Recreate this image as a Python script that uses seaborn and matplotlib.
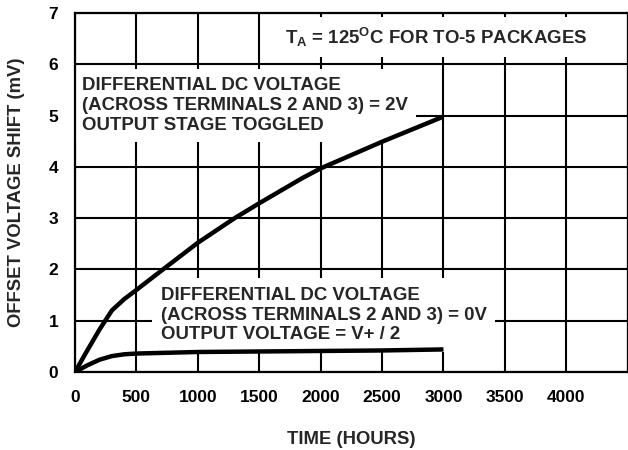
import matplotlib
matplotlib.use("Agg")
import matplotlib.pyplot as plt
import seaborn as sns
import pandas as pd

# ---- data ----
hours_2v = [0, 100, 200, 300, 400, 500, 700, 1000, 1300, 1500, 1850, 2000, 2500, 3000]
shift_2v = [0, 0.42, 0.83, 1.20, 1.42, 1.60, 1.97, 2.52, 3.00, 3.29, 3.78, 3.97, 4.49, 4.98]
hours_0v = [0, 100, 200, 300, 400, 500, 1000, 1500, 2000, 2500, 3000]
shift_0v = [0, 0.13, 0.24, 0.31, 0.345, 0.36, 0.39, 0.40, 0.41, 0.42, 0.44]
x_ticks = [0, 500, 1000, 1500, 2000, 2500, 3000, 3500, 4000]
x_grid = [0, 500, 1000, 1500, 2000, 2500, 3000, 3500, 4000, 4500]
y_ticks = [0, 1, 2, 3, 4, 5, 6, 7]

label_2v = "DIFFERENTIAL DC VOLTAGE\n(ACROSS TERMINALS 2 AND 3) = 2V\nOUTPUT STAGE TOGGLED"
label_0v = "DIFFERENTIAL DC VOLTAGE\n(ACROSS TERMINALS 2 AND 3) = 0V\nOUTPUT VOLTAGE = V+ / 2"
label_ta = r"$\mathbf{T_A}$ = 125$^{\mathbf{O}}$C FOR TO-5 PACKAGES"
x_label = "TIME (HOURS)"
y_label = "OFFSET VOLTAGE SHIFT (mV)"

df = pd.concat([
    pd.DataFrame({"hours": hours_2v, "shift": shift_2v, "series": "2V"}),
    pd.DataFrame({"hours": hours_0v, "shift": shift_0v, "series": "0V"}),
])

sns.set_style("white")
plt.rcParams["font.family"] = ["Liberation Sans", "DejaVu Sans"]
plt.rcParams["font.weight"] = "bold"
plt.rcParams["mathtext.fontset"] = "custom"
plt.rcParams["mathtext.rm"] = "Liberation Sans:bold"
plt.rcParams["mathtext.bf"] = "Liberation Sans:bold"
plt.rcParams["mathtext.it"] = "Liberation Sans:bold"

FS_TICK = 12.5
FS_ANN = 13.4
FS_LAB = 13.3
fig = plt.figure(figsize=(6.28, 4.5), dpi=100)
ax = fig.add_axes([75 / 628, 1 - 372 / 450, 553 / 628 - 0.0005, (372 - 13) / 450])

sns.lineplot(data=df, x="hours", y="shift", hue="series", sort=False,
             palette={"2V": "black", "0V": "black"}, linewidth=3.2,
             legend=False, ax=ax, zorder=5)
for ln in ax.get_lines():
    ln.set_solid_joinstyle("round")
    ln.set_solid_capstyle("butt")

ax.set_xlim(0, 4500)
ax.set_ylim(0, 7)
ax.set_xticks(x_grid)
ax.set_xticklabels([str(v) if v in x_ticks else "" for v in x_grid])
ax.set_yticks(y_ticks)
ax.set_axisbelow(True)
ax.grid(True, color="black", linewidth=1.5)
ax.tick_params(axis="both", length=0, labelsize=FS_TICK, colors="black")
ax.tick_params(axis="y", pad=12)
ax.tick_params(axis="x", pad=13)
for lab in ax.get_xticklabels() + ax.get_yticklabels():
    lab.set_fontweight("bold")
for s in ax.spines.values():
    s.set_visible(True)
    s.set_color("black")
    s.set_linewidth(1.6)
    s.set_zorder(6)

ax.set_xlabel(x_label, fontsize=FS_LAB, fontweight="bold", labelpad=19)
ax.set_ylabel(y_label, fontsize=FS_LAB, fontweight="bold", labelpad=17)

box = dict(facecolor="white", edgecolor="none", boxstyle="square,pad=0.45")
ax.text(57, 5.2, label_2v, fontsize=FS_ANN, fontweight="bold", ha="left", va="center",
        linespacing=1.22, bbox=box, zorder=3)
ax.text(699, 1.11, label_0v, fontsize=FS_ANN, fontweight="bold", ha="left", va="center",
        linespacing=1.22, bbox=box, zorder=3)
ax.text(1707, 6.53, label_ta, fontsize=FS_ANN, fontweight="bold", ha="left", va="center",
        bbox=box, zorder=3)

fig.savefig("out.png", dpi=100)
